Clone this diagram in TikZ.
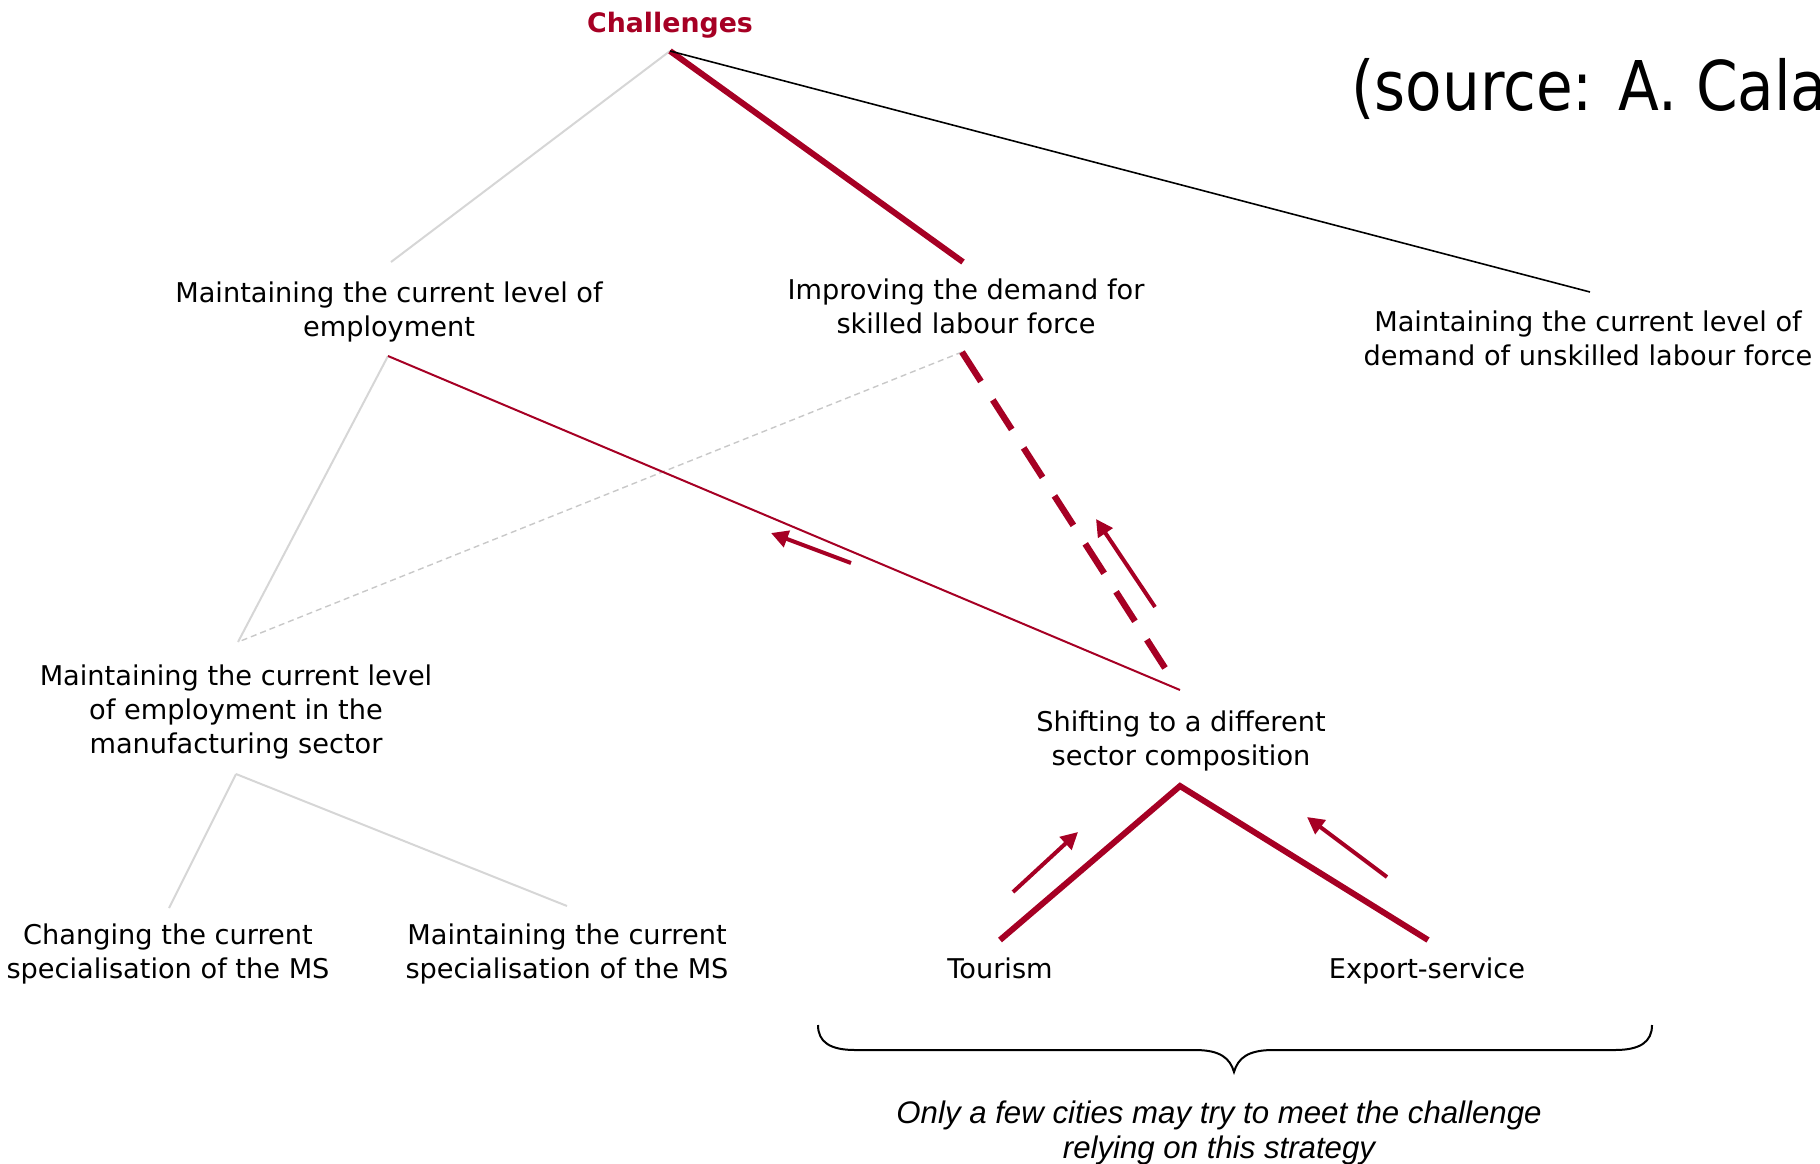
\documentclass[tikz,border=0pt]{standalone}
\usepackage{fontspec}
\setmainfont{DejaVu Sans}
\newfontfamily\libsans{Liberation Sans}
\newfontfamily\srcfont[FakeStretch=0.87]{DejaVu Sans}
\usetikzlibrary{arrows.meta}
\definecolor{cred}{RGB}{166,0,36}
\definecolor{lgray}{RGB}{214,214,214}
\definecolor{dgray}{RGB}{200,200,200}
\begin{document}
\begin{tikzpicture}[x=0.5pt,y=-0.5pt,
  lbl/.style={font=\fontsize{13.6}{17}\selectfont, align=center, inner sep=0pt},
  itlbl/.style={font=\libsans\itshape\fontsize{15.6}{17.5}\selectfont, align=center, inner sep=0pt},
  thickred/.style={draw=cred, line width=3pt},
  thinred/.style={draw=cred, line width=1pt},
  dashred/.style={draw=cred, line width=3.2pt, dash pattern=on 17.5pt off 11pt},
  redarrow/.style={draw=cred, line width=2pt, -{Triangle[length=8.5pt,width=8.5pt]}},
  grayline/.style={draw=lgray, line width=1pt},
  graydash/.style={draw=dgray, line width=0.7pt, dash pattern=on 3pt off 2pt},
  blackline/.style={draw=black, line width=0.8pt},
  bracestyle/.style={draw=black, line width=1pt},
]
\useasboundingbox (0,0) rectangle (1820,1163);

% connector end points
\coordinate (apex) at (670,51);
\coordinate (empT) at (391,262);
\coordinate (sklT) at (963,262);
\coordinate (unsT) at (1590,292);
\coordinate (empB) at (388,356);
\coordinate (sklB) at (962,352);
\coordinate (manT) at (238,642);
\coordinate (manB) at (236,774);
\coordinate (shfT) at (1180,690);
\coordinate (shfTd) at (1165,668);
\coordinate (shfB) at (1180,786);
\coordinate (chgT) at (169,908);
\coordinate (mmsT) at (567,906);
\coordinate (touT) at (1000,940);
\coordinate (expT) at (1428,940);
\coordinate (a1s) at (851,563);
\coordinate (a1e) at (771,533);
\coordinate (a2s) at (1155,607);
\coordinate (a2e) at (1096,519);
\coordinate (a3s) at (1013,892);
\coordinate (a3e) at (1078,832);
\coordinate (a4s) at (1387,877);
\coordinate (a4e) at (1307,817);
\coordinate (brL) at (818,1025);
\coordinate (brR) at (1652,1025);
\coordinate (brT) at (1234,1072);

% connectors
\draw[grayline] (apex) -- (empT);
\draw[thickred] (apex) -- (sklT);
\draw[blackline] (apex) -- (unsT);
\draw[grayline] (empB) -- (manT);
\draw[graydash] (sklB) -- (manT);
\draw[thinred] (empB) -- (shfT);
\draw[dashred] (sklB) -- (shfTd);
\draw[grayline] (manB) -- (chgT);
\draw[grayline] (manB) -- (mmsT);
\draw[thickred] (touT) -- (shfB) -- (expT);
\draw[redarrow] (a1s) -- (a1e);
\draw[redarrow] (a2s) -- (a2e);
\draw[redarrow] (a3s) -- (a3e);
\draw[redarrow] (a4s) -- (a4e);

% brace
\draw[bracestyle] (brL) .. controls (818,1042) and (830,1050) .. (855,1050) -- (1195,1050)
  .. controls (1220,1050) and (1230,1058) .. (brT)
  .. controls (1238,1058) and (1248,1050) .. (1273,1050) -- (1615,1050)
  .. controls (1640,1050) and (1652,1042) .. (brR);

% texts
\node[font=\bfseries\fontsize{13.4}{17}\selectfont, text=cred, inner sep=0pt] (chal) at (670,26) {\strut Challenges};
\node[anchor=base west, inner sep=0pt, font=\srcfont\fontsize{34.3}{40}\selectfont] (src) at (1351,110) {(source: A. Calafati)};
\node[lbl] (emp) at (389,313) {\strut Maintaining the current level of\\ employment\strut};
\node[lbl] (skl) at (966,310) {\strut Improving the demand for\\ skilled labour force\strut};
\node[lbl] (uns) at (1588,342) {\strut Maintaining the current level of\\ demand of unskilled labour force\strut};
\node[lbl] (man) at (236,713) {\strut Maintaining the current level\\ of employment in the\\ manufacturing sector\strut};
\node[lbl] (shf) at (1181,742) {\strut Shifting to a different\\ sector composition\strut};
\node[lbl] (chg) at (168,955) {\strut Changing the current\\ specialisation of the MS\strut};
\node[lbl] (mms) at (567,955) {\strut Maintaining the current\\ specialisation of the MS\strut};
\node[lbl] (tou) at (1000,972) {\strut Tourism};
\node[lbl] (exs) at (1427,972) {\strut Export-service};
\node[itlbl] (note) at (1219,1134) {\strut Only a few cities may try to meet the challenge\\ relying on this strategy\strut};
\end{tikzpicture}
\end{document}
